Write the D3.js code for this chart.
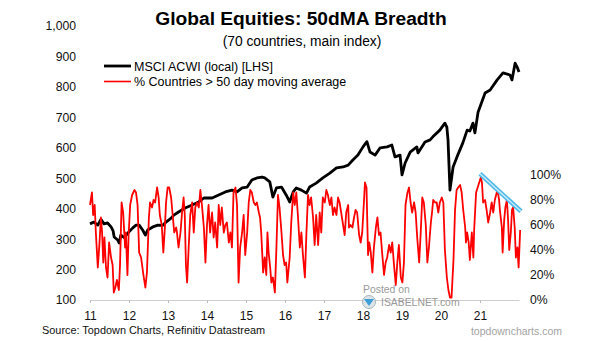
<!DOCTYPE html>
<html>
<head>
<meta charset="utf-8">
<script src="https://cdn.jsdelivr.net/npm/d3@7"></script>
<style>
  html, body { margin: 0; padding: 0; background: #fff; }
  svg { display: block; font-family: "Liberation Sans", Arial, sans-serif; }
</style>
</head>
<body>
<div id="chart"></div>
<script>
const TITLE = 'Global Equities: 50dMA Breadth';
const SUBTITLE = '(70 countries, main index)';
const SOURCE = 'Source: Topdown Charts, Refinitiv Datastream';

const seriesNames = ['MSCI ACWI (local) [LHS]', '% Countries > 50 day moving average'];
const seriesColors = ['#000000', '#ff0000'];

const yearTicks = [2011, 2012, 2013, 2014, 2015, 2016, 2017, 2018, 2019, 2020, 2021];
const leftTicks = [100, 200, 300, 400, 500, 600, 700, 800, 900, 1000];
const rightTicks = [0, 20, 40, 60, 80, 100];

// MSCI ACWI local index, [decimal year, level]
const acwi = [
  [2011.00, 350], [2011.10, 356], [2011.20, 346], [2011.28, 365], [2011.36, 350],
  [2011.45, 353], [2011.54, 340], [2011.59, 328], [2011.62, 307], [2011.71, 297],
  [2011.75, 287], [2011.79, 313], [2011.88, 305], [2011.97, 320], [2012.09, 336],
  [2012.18, 346], [2012.26, 346], [2012.35, 330], [2012.42, 313], [2012.48, 330],
  [2012.61, 340], [2012.74, 346], [2012.86, 345], [2012.95, 356], [2013.08, 369],
  [2013.15, 379], [2013.27, 389], [2013.44, 402], [2013.62, 412], [2013.79, 422],
  [2013.92, 435], [2014.13, 435], [2014.30, 445], [2014.47, 455], [2014.64, 461],
  [2014.77, 455], [2014.90, 468], [2015.03, 471], [2015.15, 494], [2015.28, 501],
  [2015.41, 504], [2015.48, 501], [2015.61, 488], [2015.69, 438], [2015.78, 468],
  [2015.91, 471], [2016.03, 445], [2016.12, 422], [2016.21, 455], [2016.29, 468],
  [2016.42, 461], [2016.55, 451], [2016.63, 471], [2016.80, 484], [2016.97, 501],
  [2017.15, 517], [2017.32, 534], [2017.49, 537], [2017.62, 543], [2017.74, 560],
  [2017.87, 576], [2018.00, 603], [2018.10, 620], [2018.18, 586], [2018.31, 576],
  [2018.44, 600], [2018.62, 603], [2018.74, 609], [2018.82, 570], [2018.95, 576],
  [2019.00, 511], [2019.08, 550], [2019.21, 586], [2019.38, 603], [2019.41, 583],
  [2019.59, 619], [2019.72, 626], [2019.79, 636], [2019.97, 658], [2020.10, 681],
  [2020.15, 668], [2020.18, 626], [2020.23, 461], [2020.31, 537], [2020.41, 570],
  [2020.56, 616], [2020.67, 658], [2020.74, 655], [2020.82, 681], [2020.87, 649],
  [2020.95, 717], [2021.13, 780], [2021.26, 790], [2021.44, 823], [2021.59, 846],
  [2021.77, 839], [2021.82, 823], [2021.90, 878], [2021.95, 866], [2022.00, 849]
];

// share of countries above their 50-day moving average, [decimal year, %]
const breadth = [
  [2011.00, 76], [2011.05, 86], [2011.08, 68], [2011.12, 76], [2011.15, 54],
  [2011.20, 26], [2011.24, 44], [2011.28, 66], [2011.31, 54], [2011.34, 30],
  [2011.37, 50], [2011.41, 26], [2011.45, 18], [2011.49, 46], [2011.54, 34],
  [2011.58, 28], [2011.61, 6], [2011.65, 10], [2011.69, 16], [2011.74, 8],
  [2011.77, 28], [2011.81, 78], [2011.85, 70], [2011.90, 42], [2011.92, 54],
  [2011.96, 20], [2011.99, 52], [2012.03, 76], [2012.08, 84], [2012.14, 88],
  [2012.18, 86], [2012.22, 76], [2012.26, 38], [2012.31, 34], [2012.37, 20],
  [2012.42, 10], [2012.46, 22], [2012.51, 66], [2012.54, 78], [2012.59, 74],
  [2012.63, 80], [2012.67, 78], [2012.72, 90], [2012.76, 82], [2012.79, 68],
  [2012.84, 60], [2012.88, 38], [2012.92, 58], [2012.95, 78], [2012.99, 90],
  [2013.03, 90], [2013.08, 82], [2013.12, 68], [2013.16, 54], [2013.21, 58],
  [2013.23, 54], [2013.27, 42], [2013.32, 54], [2013.36, 70], [2013.40, 82],
  [2013.43, 68], [2013.46, 28], [2013.49, 14], [2013.53, 42], [2013.57, 68],
  [2013.62, 78], [2013.66, 54], [2013.70, 74], [2013.74, 78], [2013.79, 74],
  [2013.83, 88], [2013.87, 76], [2013.92, 58], [2013.96, 30], [2014.00, 60],
  [2014.04, 76], [2014.08, 54], [2014.13, 70], [2014.17, 50], [2014.21, 62],
  [2014.26, 42], [2014.30, 76], [2014.34, 60], [2014.38, 74], [2014.43, 54],
  [2014.47, 60], [2014.51, 62], [2014.56, 46], [2014.60, 54], [2014.64, 42],
  [2014.68, 86], [2014.73, 90], [2014.77, 76], [2014.81, 14], [2014.85, 42],
  [2014.90, 54], [2014.94, 68], [2014.98, 36], [2015.03, 54], [2015.07, 78],
  [2015.11, 88], [2015.15, 86], [2015.20, 78], [2015.24, 76], [2015.28, 78],
  [2015.33, 70], [2015.36, 66], [2015.39, 54], [2015.44, 22], [2015.48, 34],
  [2015.52, 20], [2015.55, 54], [2015.58, 38], [2015.62, 26], [2015.65, 14],
  [2015.69, 18], [2015.74, 6], [2015.78, 42], [2015.82, 84], [2015.86, 74],
  [2015.91, 54], [2015.95, 36], [2015.99, 28], [2016.03, 30], [2016.06, 14],
  [2016.12, 34], [2016.16, 62], [2016.21, 86], [2016.25, 76], [2016.29, 86],
  [2016.33, 68], [2016.38, 42], [2016.42, 54], [2016.46, 36], [2016.51, 18],
  [2016.55, 54], [2016.59, 84], [2016.63, 76], [2016.67, 82], [2016.72, 66],
  [2016.76, 44], [2016.80, 68], [2016.85, 44], [2016.89, 70], [2016.93, 54],
  [2016.97, 82], [2017.02, 78], [2017.06, 88], [2017.10, 84], [2017.15, 76],
  [2017.19, 82], [2017.23, 68], [2017.27, 74], [2017.32, 68], [2017.36, 82],
  [2017.40, 78], [2017.44, 70], [2017.49, 60], [2017.53, 52], [2017.57, 70],
  [2017.62, 76], [2017.64, 58], [2017.68, 60], [2017.73, 58], [2017.77, 66],
  [2017.81, 72], [2017.85, 70], [2017.90, 52], [2017.94, 46], [2017.98, 54],
  [2018.03, 82], [2018.05, 94], [2018.09, 90], [2018.13, 36], [2018.16, 46],
  [2018.20, 38], [2018.24, 22], [2018.28, 42], [2018.33, 58], [2018.37, 66],
  [2018.41, 52], [2018.45, 54], [2018.49, 38], [2018.54, 20], [2018.58, 30],
  [2018.62, 34], [2018.67, 44], [2018.71, 38], [2018.75, 46], [2018.79, 30],
  [2018.84, 12], [2018.88, 30], [2018.92, 44], [2018.97, 18], [2019.01, 14],
  [2019.05, 30], [2019.09, 76], [2019.14, 86], [2019.18, 90], [2019.22, 78],
  [2019.26, 70], [2019.31, 78], [2019.35, 70], [2019.39, 50], [2019.44, 30],
  [2019.48, 54], [2019.52, 82], [2019.56, 78], [2019.61, 60], [2019.65, 30],
  [2019.69, 42], [2019.74, 62], [2019.77, 70], [2019.80, 80], [2019.85, 78],
  [2019.89, 78], [2019.93, 70], [2019.97, 78], [2020.02, 82], [2020.06, 78],
  [2020.10, 40], [2020.15, 18], [2020.19, 8], [2020.23, 2], [2020.27, 2],
  [2020.32, 32], [2020.36, 72], [2020.40, 88], [2020.44, 90], [2020.49, 92],
  [2020.53, 86], [2020.57, 72], [2020.62, 58], [2020.64, 46], [2020.67, 54],
  [2020.71, 46], [2020.74, 32], [2020.79, 54], [2020.83, 34], [2020.85, 56],
  [2020.90, 86], [2020.94, 90], [2020.98, 94], [2021.02, 98], [2021.05, 94],
  [2021.08, 78], [2021.13, 80], [2021.17, 72], [2021.21, 62], [2021.26, 70],
  [2021.30, 78], [2021.34, 70], [2021.38, 80], [2021.43, 86], [2021.45, 88],
  [2021.49, 80], [2021.51, 72], [2021.56, 58], [2021.58, 38], [2021.62, 64],
  [2021.65, 74], [2021.69, 80], [2021.72, 64], [2021.75, 40], [2021.79, 54],
  [2021.82, 72], [2021.85, 74], [2021.89, 58], [2021.92, 34], [2021.96, 42],
  [2021.99, 26], [2022.03, 56]
];

// falling peaks in breadth since the start of 2021
const trendline = [[2021.00, 101], [2022.05, 71]];

const width = 605;
const height = 341;
const font = '"Liberation Sans", Arial, sans-serif';

const svg = d3.select('#chart')
  .append('svg')
  .attr('width', width)
  .attr('height', height)
  .attr('viewBox', `0 0 ${width} ${height}`);

const x = d3.scaleLinear().domain([2011, 2022]).range([90, 519]);
const yLeft = d3.scaleLinear().domain([100, 1000]).range([300, 26]);
const yRight = d3.scaleLinear().domain([0, 100]).range([300, 175]);

// titles
svg.append('text')
  .attr('x', 301).attr('y', 25)
  .attr('text-anchor', 'middle')
  .style('font-size', '19.2px').style('font-weight', 'bold')
  .text(TITLE);

svg.append('text')
  .attr('x', 302).attr('y', 46)
  .attr('text-anchor', 'middle')
  .style('font-size', '13.8px')
  .text(SUBTITLE);

// axes
const leftAxis = svg.append('g')
  .attr('transform', 'translate(76,0)')
  .call(d3.axisLeft(yLeft).tickValues(leftTicks).tickSize(0).tickPadding(0).tickFormat(d3.format(',')));

const rightAxis = svg.append('g')
  .attr('transform', 'translate(530,0)')
  .call(d3.axisRight(yRight).tickValues(rightTicks).tickSize(0).tickPadding(0).tickFormat((d) => `${d}%`));

[leftAxis, rightAxis].forEach((g) => {
  g.select('.domain').remove();
  g.selectAll('text').style('font-size', '12.2px').style('font-family', font).attr('fill', '#111');
});

const bottomAxis = svg.append('g')
  .attr('transform', 'translate(0,300)')
  .call(d3.axisBottom(x).tickValues(yearTicks).tickSize(3).tickSizeOuter(0).tickPadding(8)
    .tickFormat((d) => String(d).slice(2)));

bottomAxis.select('.domain').attr('stroke', '#cfcfcf').attr('stroke-width', 1.2);
bottomAxis.selectAll('.tick line').attr('stroke', '#bdbdbd');
bottomAxis.selectAll('text').style('font-size', '12px').style('font-family', font).attr('fill', '#111');

// series
const acwiLine = d3.line()
  .x((d) => x(d[0]))
  .y((d) => yLeft(d[1]));

const breadthLine = d3.line()
  .x((d) => x(d[0]))
  .y((d) => yRight(d[1]));

svg.append('path')
  .datum(acwi)
  .attr('fill', 'none')
  .attr('stroke', seriesColors[0])
  .attr('stroke-width', 2.8)
  .attr('stroke-linejoin', 'round')
  .attr('d', acwiLine);

svg.append('path')
  .datum(breadth)
  .attr('fill', 'none')
  .attr('stroke', seriesColors[1])
  .attr('stroke-width', 1.8)
  .attr('stroke-linejoin', 'round')
  .attr('d', breadthLine);

// downtrend line, drawn as a hollow light blue stroke
svg.append('path')
  .datum(trendline)
  .attr('fill', 'none')
  .attr('stroke', '#4fb8e8')
  .attr('stroke-width', 4.5)
  .attr('d', breadthLine);

svg.append('path')
  .datum(trendline)
  .attr('fill', 'none')
  .attr('stroke', '#c8ecfb')
  .attr('stroke-width', 1.4)
  .attr('d', breadthLine);

// legend
const legend = svg.append('g').attr('transform', 'translate(104,66)');

seriesNames.forEach((name, i) => {
  const row = legend.append('g').attr('transform', `translate(0,${i * 15.5})`);
  row.append('line')
    .attr('x1', 0).attr('x2', 27)
    .attr('stroke', seriesColors[i])
    .attr('stroke-width', i === 0 ? 2.8 : 1.6);
  row.append('text')
    .attr('x', 30).attr('y', 4.5)
    .style('font-size', '12.5px')
    .text(name);
});

// footer
svg.append('text')
  .attr('x', 42).attr('y', 334)
  .style('font-size', '10.9px')
  .attr('fill', '#111')
  .text(SOURCE);

svg.append('text')
  .attr('x', 562).attr('y', 335)
  .attr('text-anchor', 'end')
  .style('font-size', '10.5px')
  .attr('fill', '#a3a3a3')
  .text('topdowncharts.com');

// posted-on stamp
const stamp = svg.append('g').attr('fill', '#9a9a9a');

stamp.append('text')
  .attr('x', 363).attr('y', 293)
  .style('font-size', '10.4px')
  .text('Posted on');

stamp.append('circle')
  .attr('cx', 369).attr('cy', 302).attr('r', 6.5)
  .attr('fill', '#dde4e8').attr('stroke', '#a8b4bc').attr('stroke-width', 1);

stamp.append('path')
  .attr('d', 'M364,299 L374,299 L369,306 Z')
  .attr('fill', '#3d9fd6');

stamp.append('text')
  .attr('x', 381).attr('y', 306)
  .style('font-size', '10.4px')
  .text('ISABELNET.com');
</script>
</body>
</html>
